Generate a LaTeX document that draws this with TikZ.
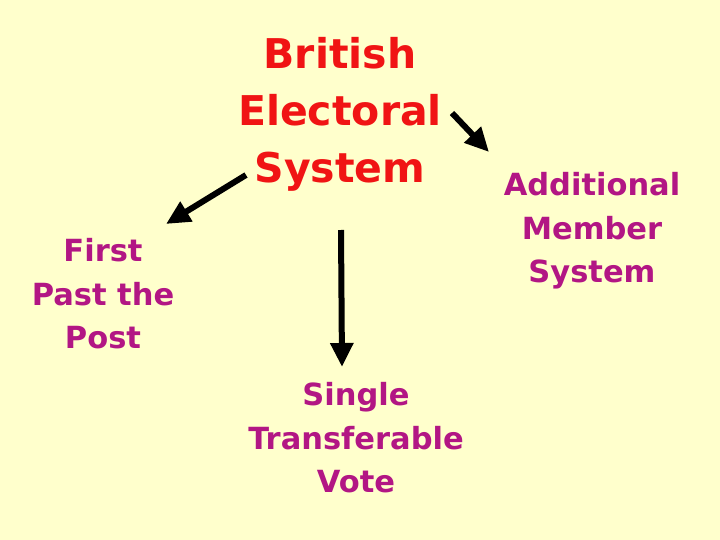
\documentclass[tikz,border=0pt]{standalone}
\usepackage{fontspec}
\setmainfont{DejaVu Sans}
\usetikzlibrary{arrows.meta}
\definecolor{bg}{RGB}{255,255,204}
\definecolor{titlered}{RGB}{240,20,20}
\definecolor{labpurple}{RGB}{178,22,132}
\tikzset{
  titletext/.style={text=titlered, align=center, inner sep=0pt, font=\fontsize{41}{57}\selectfont\bfseries},
  labtext/.style={text=labpurple, align=center, inner sep=0pt, font=\fontsize{30.5}{43.5}\selectfont\bfseries},
  bigarrow/.style={draw=black, line width=6pt, -{Triangle[length=24pt,width=22pt]}}
}
\begin{document}
\begin{tikzpicture}[x=1pt,y=-1pt]
\fill[bg] (0,0) rectangle (720,540);
\useasboundingbox (0,0) rectangle (720,540);
\node[titletext] (title) at (340,114) {British\\Electoral\\System};
\node[labtext] (fptp) at (103,294) {First\\Past the\\Post};
\node[labtext] (ams) at (592,231) {Additional\\Member\\System};
\node[labtext] (stv) at (356,438) {Single\\Transferable\\Vote};
\coordinate (lt) at (246,175);
\coordinate (lh) at (166,224);
\coordinate (rt) at (452,113);
\coordinate (rh) at (489,152);
\coordinate (dt) at (341,230);
\coordinate (dh) at (342,367);
\draw[bigarrow] (lt) -- (lh);
\draw[bigarrow] (rt) -- (rh);
\draw[bigarrow] (dt) -- (dh);
\end{tikzpicture}
\end{document}
